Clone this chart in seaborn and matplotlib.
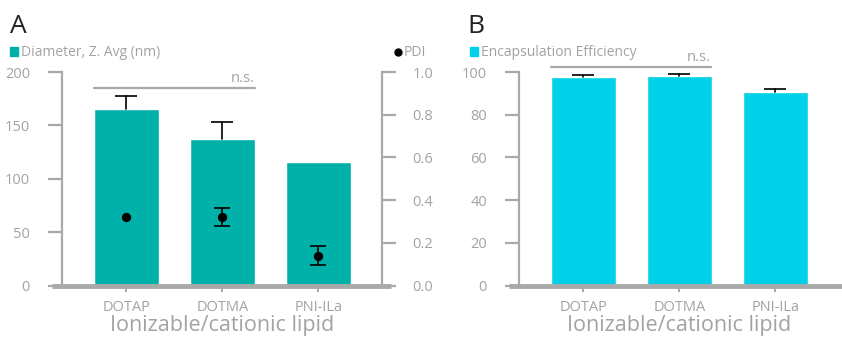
import matplotlib
matplotlib.use("Agg")
import matplotlib.pyplot as plt
from matplotlib.lines import Line2D
from matplotlib.patches import Patch
import seaborn as sns
import pandas as pd

# ---- data ----
lipids = ["DOTAP", "DOTMA", "PNI-ILa"]
diameter = [165, 137, 116]
diameter_err = [13, 16, 0]
pdi = [0.32, 0.32, 0.14]
pdi_err = [0.0, 0.042, 0.045]
encapsulation = [97.7, 98.1, 90.6]
encapsulation_err = [0.7, 0.8, 1.4]
ns_level_a = 185
ns_level_b = 102.2

TEAL = "#00b1aa"
CYAN = "#00d1e9"
GREY = "#a9a9a9"
TXT = "#a3a3a3"

sns.set_theme(style="white")
plt.rcParams["font.family"] = ["Open Sans", "DejaVu Sans"]

W, H = 842, 339
fig = plt.figure(figsize=(W / 100, H / 100), dpi=100)

def px_axes(l, r, b, t):
    return fig.add_axes([l / W, 1 - b / H, (r - l) / W, (b - t) / H])

df_a = pd.DataFrame({"lipid": lipids, "diameter": diameter})
df_b = pd.DataFrame({"lipid": lipids, "ee": encapsulation})

def upper_errors(ax, values, errs, cap_px):
    # one-sided (upward) error bars: stem plus a top cap
    for i, (v, e) in enumerate(zip(values, errs)):
        if e <= 0:
            continue
        ax.plot([i, i], [v, v + e], color="black", lw=1.2, zorder=3)
        ax.plot([i], [v + e], marker="_", markersize=cap_px, mew=1.2,
                color="black", zorder=3)

def style_axis(ax):
    for s in ["top", "right", "bottom"]:
        ax.spines[s].set_visible(False)
    ax.spines["left"].set_color(GREY)
    ax.spines["left"].set_linewidth(1.6)
    ax.tick_params(axis="y", direction="out", length=10, width=1.6, color=GREY,
                   labelcolor=TXT, labelsize=10.5, pad=13, left=True)
    ax.tick_params(axis="x", direction="out", length=4, width=1.4, color=GREY,
                   labelcolor=TXT, labelsize=10.5, pad=6, bottom=True)
    ax.set_xlabel("Ionizable/cationic lipid", fontsize=15.5, color=TXT, labelpad=0)
    ax.set_ylabel("")

# ---- Panel A ----
axA = px_axes(62, 381.7, 285.7, 72)
sns.barplot(data=df_a, x="lipid", y="diameter", color=TEAL, saturation=1,
            width=0.68, errorbar=None, ax=axA, zorder=2)
upper_errors(axA, diameter, diameter_err, 16)
axA.set_ylim(0, 200)
axA.set_yticks([0, 50, 100, 150, 200])
axA.set_xlim(-0.67, 2.66)
style_axis(axA)
axA.plot([-0.03, 1.03], [0, 0], transform=axA.transAxes, color=GREY, lw=3.5,
         clip_on=False, solid_capstyle="butt", zorder=4)
axA.plot([-0.34, 1.34], [ns_level_a, ns_level_a], color=GREY, lw=1.6, zorder=3)
axA.text(1.34, ns_level_a + 2, "n.s.", ha="right", va="bottom", color=TXT, fontsize=10.5)

axP = axA.twinx()
sns.scatterplot(x=[0, 1, 2], y=pdi, ax=axP, color="black", s=45, zorder=5,
                edgecolor="black", linewidth=0)
idx = [i for i, e in enumerate(pdi_err) if e > 0]
axP.errorbar(idx, [pdi[i] for i in idx], yerr=[pdi_err[i] for i in idx], fmt="none",
             ecolor="black", elinewidth=1.2, capsize=6, capthick=1.2, zorder=5)
axP.set_ylim(0, 1.0)
axP.set_yticks([0.0, 0.2, 0.4, 0.6, 0.8, 1.0])
axP.set_yticklabels(["0.0", "0.2", "0.4", "0.6", "0.8", "1.0"])
for s in ["top", "left", "bottom"]:
    axP.spines[s].set_visible(False)
axP.spines["right"].set_color(GREY)
axP.spines["right"].set_linewidth(1.6)
axP.tick_params(axis="y", direction="out", length=10, width=1.6, color=GREY,
                labelcolor=TXT, labelsize=10.5, pad=12, right=True)

fig.text(10 / W, 1 - 33 / H, "A", fontsize=19, color="#222222", va="baseline")
fig.legend(handles=[Patch(color=TEAL, label="Diameter, Z. Avg (nm)")],
           loc="center left", bbox_to_anchor=(10 / W, 1 - 53 / H), frameon=False,
           handlelength=0.6, handleheight=0.6, handletextpad=0.2,
           labelcolor=TXT, fontsize=10, borderpad=0, borderaxespad=0)
fig.legend(handles=[Line2D([], [], marker="o", color="black", ls="none", markersize=5,
                           label="PDI")],
           loc="center left", bbox_to_anchor=(394 / W, 1 - 53 / H), frameon=False,
           handlelength=0.6, handletextpad=0.1, labelcolor=TXT, fontsize=10,
           borderpad=0, borderaxespad=0)

# ---- Panel B ----
axB = px_axes(519, 839.6, 285.7, 72)
sns.barplot(data=df_b, x="lipid", y="ee", color=CYAN, saturation=1,
            width=0.68, errorbar=None, ax=axB, zorder=2)
upper_errors(axB, encapsulation, encapsulation_err, 16)
axB.set_ylim(0, 100)
axB.set_yticks([0, 20, 40, 60, 80, 100])
axB.set_xlim(-0.67, 2.67)
style_axis(axB)
axB.plot([-0.031, 1.01], [0, 0], transform=axB.transAxes, color=GREY, lw=3.5,
         clip_on=False, solid_capstyle="butt", zorder=4)
axB.plot([-0.34, 1.33], [ns_level_b, ns_level_b], color=GREY, lw=1.6, zorder=3,
         clip_on=False)
axB.text(1.33, ns_level_b + 1, "n.s.", ha="right", va="bottom", color=TXT,
         fontsize=10.5, clip_on=False)

fig.text(467 / W, 1 - 33 / H, "B", fontsize=19, color="#222222", va="baseline")
fig.legend(handles=[Patch(color=CYAN, label="Encapsulation Efficiency")],
           loc="center left", bbox_to_anchor=(470 / W, 1 - 53 / H), frameon=False,
           handlelength=0.6, handleheight=0.6, handletextpad=0.2,
           labelcolor=TXT, fontsize=10, borderpad=0, borderaxespad=0)

fig.savefig("out.png", dpi=100)
